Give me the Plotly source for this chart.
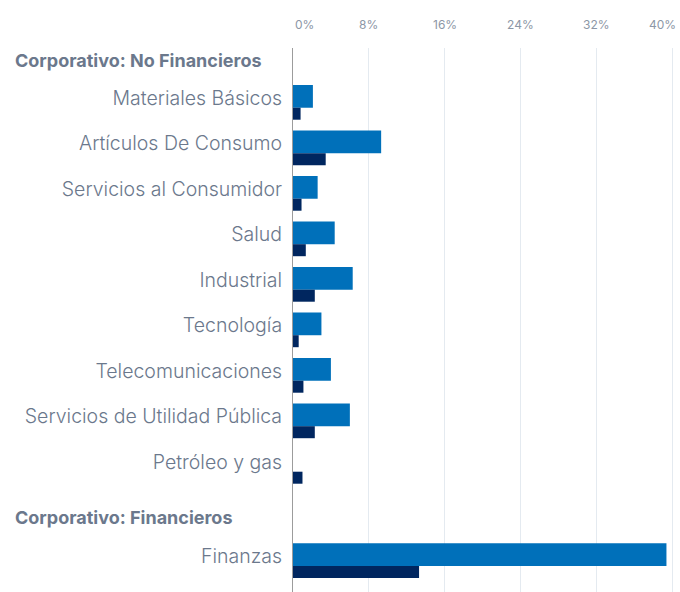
import plotly.graph_objects as go

categories = ["Materiales Básicos", "Artículos De Consumo", "Servicios al Consumidor", "Salud",
              "Industrial", "Tecnología", "Telecomunicaciones", "Servicios de Utilidad Pública",
              "Petróleo y gas", "Finanzas"]
series_a = [2.1, 9.3, 2.6, 4.4, 6.3, 3.0, 4.0, 6.0, 0.0, 39.4]
series_b = [0.8, 3.45, 0.9, 1.35, 2.3, 0.6, 1.1, 2.3, 1.0, 13.3]
group_labels = ["Corporativo: No Financieros", "Corporativo: Financieros"]
x_ticks = [0, 8, 16, 24, 32, 40]
x_tick_labels = ["0%", "8%", "16%", "24%", "32%", "40%"]

# row positions: first group rows 0..8, second group after a gap
ypos = list(range(9)) + [10.07]
header_pos = [-0.835, 9.21]

FONT = "Inter"
LABEL_COLOR = "#6b788c"

fig = go.Figure()
fig.add_trace(go.Bar(
    y=ypos, x=series_a, orientation="h",
    marker=dict(color="#0070ba", line=dict(width=0)),
    width=0.5, offset=-0.286, name="A", showlegend=False,
))
fig.add_trace(go.Bar(
    y=ypos, x=series_b, orientation="h",
    marker=dict(color="#00265f", line=dict(width=0)),
    width=0.264, offset=0.213, name="B", showlegend=False,
))

for lab, pos in zip(group_labels, header_pos):
    fig.add_annotation(
        text="<b>" + lab + "</b>", xref="paper", yref="y",
        x=-0.7235, y=pos, xanchor="left", yanchor="middle", showarrow=False,
        font=dict(family=FONT, size=18, color="#6b788c"),
    )

# top tick labels (first/last kept inside the chart like the original)
for i, (v, t) in enumerate(zip(x_ticks, x_tick_labels)):
    anchor = "left" if i == 0 else ("right" if i == len(x_ticks) - 1 else "center")
    fig.add_annotation(
        text=t, xref="x", yref="paper", x=v, y=1.0423,
        xanchor=anchor, yanchor="middle", showarrow=False,
        xshift=6 if i == len(x_ticks) - 1 else 0,
        font=dict(family=FONT, size=12, color="#8d97a6"),
    )

fig.update_layout(
    width=680, height=592,
    margin=dict(l=293, r=0, t=48, b=0, autoexpand=False),
    barmode="overlay",
    plot_bgcolor="white", paper_bgcolor="white",
    font=dict(family=FONT),
    xaxis=dict(
        side="top", range=[0, 40.83], tickvals=x_ticks, showticklabels=False,
        showgrid=True, gridcolor="#e4eaf0", gridwidth=1, zeroline=False,
        ticks="", showline=False, fixedrange=True, automargin=False,
    ),
    yaxis=dict(
        range=[10.857, -1.099], tickvals=ypos, ticktext=categories,
        tickfont=dict(family=FONT, size=19.5, color=LABEL_COLOR, weight=300),
        showgrid=False, zeroline=False, showline=True, linecolor="#9c9c9c", linewidth=1,
        ticks="", ticklabelstandoff=6, fixedrange=True, automargin=False,
    ),
)

fig.write_html("out.html", config={"displayModeBar": False},
               post_script="document.body.style.margin='0';document.body.style.overflow='hidden';")
